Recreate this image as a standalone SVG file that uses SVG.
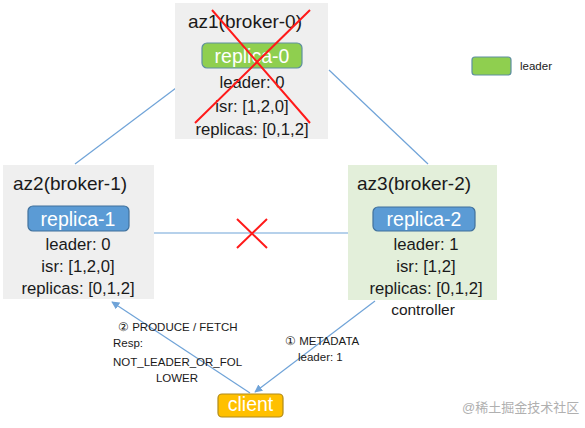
<svg xmlns="http://www.w3.org/2000/svg" width="585" height="428" viewBox="0 0 585 428">
<style>
.t{font-family:"Liberation Sans",Arial,sans-serif;fill:#1a1a1a}
.title{font-size:19px}
.body{font-size:16.7px;text-anchor:middle}
.rep{font-family:"Liberation Sans",Arial,sans-serif;font-size:19.5px;fill:#ffffff;text-anchor:middle}
.lbl{font-family:"Liberation Sans",Arial,sans-serif;font-size:11.5px;fill:#1a1a1a}
.conn{stroke:#6fa3d8;stroke-width:1.2;fill:none}
.cross{stroke:#ff1a1a;stroke-width:2;fill:none}
</style>
<defs>
<marker id="ah" viewBox="0 0 10 10" refX="9" refY="5" markerWidth="8" markerHeight="8" orient="auto" markerUnits="userSpaceOnUse">
<path d="M0,0 L10,5 L0,10 z" fill="#6fa3d8"/>
</marker>
</defs>
<rect width="585" height="428" fill="#ffffff"/>
<g id="connectors">
<line class="conn" x1="176" y1="88" x2="75" y2="164"/>
<line class="conn" x1="329" y1="70" x2="428" y2="164"/>
<line class="conn" x1="154" y1="233" x2="348" y2="233"/>
<line class="conn" x1="250" y1="393" x2="112" y2="302" marker-end="url(#ah)"/>
<line class="conn" x1="375" y1="301" x2="255" y2="392" marker-end="url(#ah)"/>
<path class="cross" d="M237,219 L267,248 M267,219 L237,248"/>
<text class="lbl" x="118" y="331">② PRODUCE / FETCH</text>
<text class="lbl" x="113" y="347">Resp:</text>
<text class="lbl" x="113" y="366">NOT_LEADER_OR_FOL</text>
<text class="lbl" x="177" y="382" text-anchor="middle">LOWER</text>
<text class="lbl" x="285" y="345">① METADATA</text>
<text class="lbl" x="298" y="361">leader: 1</text>
</g>
<g id="az1">
<rect x="175" y="3" width="153" height="136" fill="#efefef"/>
<text class="t title" x="245" y="28" text-anchor="middle">az1(broker-0)</text>
<rect x="202" y="43" width="100" height="25" rx="5" fill="#8fcf4f" stroke="#5e8fa0" stroke-width="1.2"/>
<text class="rep" x="252" y="62.5">replica-0</text>
<text class="t body" x="252" y="88">leader: 0</text>
<text class="t body" x="252" y="112">isr: [1,2,0]</text>
<text class="t body" x="252" y="135">replicas: [0,1,2]</text>
<path class="cross" d="M212,10 L310,123 M310,10 L195,123"/>
</g>
<g id="az2">
<rect x="3" y="165" width="151" height="134" fill="#efefef"/>
<text class="t title" x="13" y="190">az2(broker-1)</text>
<rect x="28" y="206" width="101" height="25" rx="5" fill="#5b9bd5" stroke="#41719c" stroke-width="1.2"/>
<text class="rep" x="78" y="225.5">replica-1</text>
<text class="t body" x="78" y="250">leader: 0</text>
<text class="t body" x="78" y="272">isr: [1,2,0]</text>
<text class="t body" x="78" y="294">replicas: [0,1,2]</text>
</g>
<g id="az3">
<rect x="348" y="165" width="149" height="135" fill="#e3efda"/>
<text class="t title" x="357" y="190">az3(broker-2)</text>
<rect x="373" y="207" width="102" height="24" rx="5" fill="#5b9bd5" stroke="#41719c" stroke-width="1.2"/>
<text class="rep" x="424" y="226">replica-2</text>
<text class="t body" x="426" y="250">leader: 1</text>
<text class="t body" x="426" y="272">isr: [1,2]</text>
<text class="t body" x="426" y="294">replicas: [0,1,2]</text>
<text class="t" x="423" y="315" font-size="15.5" text-anchor="middle">controller</text>
</g>
<g id="client">
<rect x="218" y="394" width="65" height="23" rx="4" fill="#ffc000" stroke="#b08a1a" stroke-width="1.2"/>
<text class="rep" x="250.5" y="411" font-size="16">client</text>
</g>
<g id="legend">
<rect x="472" y="57" width="39" height="18" rx="3" fill="#8fcf4f" stroke="#5e8fa0" stroke-width="1.2"/>
<text class="lbl" x="520" y="70" font-size="13">leader</text>
</g>
<text x="462" y="412" font-family="'Liberation Sans','Noto Sans CJK SC',sans-serif" font-size="13" fill="#b0b0b0">@稀土掘金技术社区</text>
</svg>
